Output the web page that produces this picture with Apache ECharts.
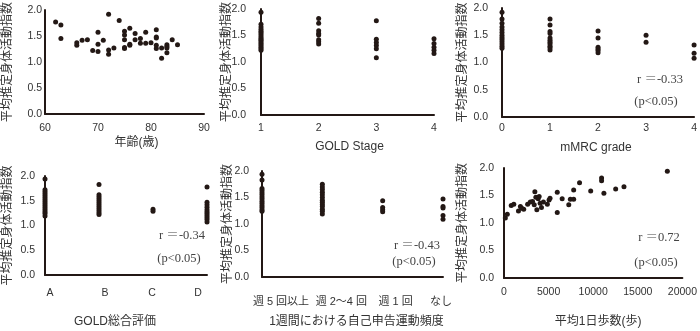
<!DOCTYPE html>
<html>
<head>
<meta charset="utf-8">
<script src="https://cdn.jsdelivr.net/npm/echarts@6/dist/echarts.min.js"></script>
<style>
html, body { margin: 0; padding: 0; background: #fff; }
#chart { width: 700px; height: 331px; }
</style>
</head>
<body>
<div id="chart"></div>
<script>
// 平均推定身体活動指数 vs 各因子
const yName = '平均推定身体活動指数'

// panel 1: age
const ageYears = [62, 63, 63, 66, 66, 67, 68, 69, 70, 70, 70, 71, 72, 72, 72, 73, 74, 75, 75, 75, 75, 75, 76, 76, 76, 77, 77, 78, 78, 79, 79, 80, 81, 81, 81, 81, 81, 82, 82, 83, 83, 83, 83, 84, 85]
const ageAct = [1.77, 1.71, 1.45, 1.37, 1.32, 1.42, 1.43, 1.22, 1.57, 1.34, 1.20, 1.42, 1.92, 1.23, 1.15, 1.27, 1.80, 1.59, 1.52, 1.43, 1.28, 1.26, 1.65, 1.34, 1.32, 1.55, 1.43, 1.45, 1.36, 1.57, 1.36, 1.37, 1.62, 1.48, 1.46, 1.32, 1.26, 1.27, 1.07, 1.33, 1.30, 1.27, 1.18, 1.43, 1.33]

// panel 2: GOLD stage
const goldStages = ['1', '2', '3', '4']
const goldStageAct = [
  [1.94, 1.71, 1.66, 1.62, 1.58, 1.55, 1.52, 1.48, 1.45, 1.42, 1.40, 1.37, 1.34, 1.31, 1.28, 1.25, 1.22],
  [1.82, 1.73, 1.59, 1.54, 1.51, 1.42, 1.38, 1.34],
  [1.78, 1.43, 1.37, 1.31, 1.25, 1.08],
  [1.44, 1.35, 1.28, 1.22, 1.16]
]

// panel 3: mMRC grade
const mmrcGrades = ['0', '1', '2', '3', '4']
const mmrcAct = [
  [1.92, 1.80, 1.72, 1.65, 1.60, 1.55, 1.50, 1.46, 1.42, 1.38, 1.34, 1.30, 1.26],
  [1.80, 1.69, 1.57, 1.53, 1.45, 1.41, 1.37, 1.34, 1.30, 1.27, 1.23],
  [1.58, 1.45, 1.28, 1.25, 1.22, 1.18],
  [1.50, 1.37],
  [1.32, 1.17, 1.08]
]

// panel 4: GOLD総合評価
const goldGroups = ['A', 'B', 'C', 'D']
const goldGroupAct = [
  [1.94, 1.72, 1.68, 1.64, 1.60, 1.56, 1.52, 1.48, 1.44, 1.40, 1.36, 1.32, 1.28, 1.24, 1.19],
  [1.83, 1.62, 1.58, 1.54, 1.50, 1.46, 1.42, 1.38, 1.34, 1.30, 1.26, 1.22],
  [1.33, 1.29],
  [1.78, 1.47, 1.42, 1.37, 1.32, 1.28, 1.24, 1.20, 1.16, 1.12, 1.07]
]

// panel 5: 1週間における自己申告運動頻度
const exFreq = ['週 5 回以上', '週 2〜4 回', '週 1 回', 'なし']
const exFreqAct = [
  [1.94, 1.83, 1.67, 1.63, 1.59, 1.55, 1.51, 1.47, 1.43, 1.39, 1.35, 1.31, 1.27, 1.24],
  [1.75, 1.70, 1.65, 1.60, 1.55, 1.50, 1.45, 1.41, 1.37, 1.33, 1.28, 1.24, 1.19],
  [1.44, 1.31, 1.27, 1.23],
  [1.47, 1.33, 1.30, 1.16, 1.09]
]

// panel 6: 平均1日歩数
const steps = [150, 370, 810, 1100, 1620, 1840, 1990, 2210, 2650, 2950, 3200, 3390, 3460, 3570, 3680, 3830, 3940, 4050, 4200, 4420, 4860, 5050, 5160, 5970, 5970, 6520, 7260, 7440, 7810, 7810, 8470, 9720, 10940, 10940, 11200, 12520, 13450, 18310]
const stepAct = [1.09, 1.16, 1.32, 1.34, 1.22, 1.30, 1.27, 1.25, 1.34, 1.38, 1.39, 1.33, 1.57, 1.47, 1.24, 1.44, 1.48, 1.36, 1.28, 1.38, 1.34, 1.42, 1.45, 1.56, 1.19, 1.44, 1.33, 1.43, 1.43, 1.60, 1.73, 1.58, 1.82, 1.77, 1.54, 1.62, 1.66, 1.94]

const corrTexts = [null, null, ['r ＝-0.33', '(p<0.05)'], ['r ＝-0.34', '(p<0.05)'], ['r ＝-0.43', '(p<0.05)'], ['r ＝0.72', '(p<0.05)']]

const INK = '#231815'
const TXT = '#333'
const SANS = "'Liberation Sans', 'Noto Sans CJK JP', sans-serif"
const SERIF = "'Liberation Serif', 'Noto Serif CJK JP', serif"
const TICK_FS = 10.5

// layout of each panel (px)
const panels = [
  { left: 45, top: 5, width: 159, height: 109, yGap: 31, yMargin: 3, xMargin: 9, nameGap: 23, xName: '年齢(歳)', nameShift: 12 },
  { left: 261, top: 7, width: 173, height: 108, yGap: 28, yMargin: 15, xMargin: 8, nameGap: 26, xName: 'GOLD Stage', nameShift: 2 },
  { left: 502, top: 8, width: 194, height: 109, yGap: 33, yMargin: 14, xMargin: 6, nameGap: 25, xName: 'mMRC grade', nameShift: -2 },
  { left: 45, top: 176, width: 162, height: 99, yGap: 31, yMargin: 10, xMargin: 13, nameGap: 41, xName: 'GOLD総合評価', nameShift: -11, labelShift: [5, 6, -1, -9] },
  { left: 262, top: 171, width: 181, height: 106, yGap: 28, yMargin: 13, xMargin: 19, nameGap: 39, xName: '1週間における自己申告運動頻度', nameShift: 4, labelShift: [19, 19, 13, -2] },
  { left: 504, top: 168, width: 181, height: 110, yGap: 35, yMargin: 10, xMargin: 9, nameGap: 38, xName: '平均1日歩数(歩)', nameShift: 5 }
]

const textPos = [null, null, [[660, 80], [656, 102]], [[182, 236], [179, 259]], [[417, 246], [414, 262]], [[659, 238], [656, 263]]]

function shiftPad(s) {
  return s >= 0 ? [0, 0, 0, 2 * s] : [0, -2 * s, 0, 0]
}

function catAxis(i, cats) {
  const p = panels[i]
  const fs = i === 4 ? 11 : TICK_FS
  const axis = {
    type: 'category',
    gridIndex: i,
    data: cats,
    boundaryGap: false,
    axisLabel: { color: TXT, fontFamily: SANS, fontSize: fs, margin: p.xMargin, interval: 0 }
  }
  if (p.labelShift) {
    const rich = {}
    p.labelShift.forEach((s, k) => {
      rich['s' + k] = { padding: shiftPad(s), color: TXT, fontFamily: SANS, fontSize: fs }
    })
    axis.axisLabel.formatter = (v, idx) => '{s' + idx + '|' + v + '}'
    axis.axisLabel.rich = rich
  }
  return axis
}

function valAxis(i, min, max, interval) {
  const p = panels[i]
  return {
    type: 'value',
    gridIndex: i,
    min: min,
    max: max,
    interval: interval,
    axisLabel: { color: TXT, fontFamily: SANS, fontSize: TICK_FS, margin: p.xMargin, formatter: (v) => String(v) },
    splitLine: { show: false }
  }
}

const xAxes = [
  valAxis(0, 60, 90, 10),
  catAxis(1, goldStages),
  catAxis(2, mmrcGrades),
  catAxis(3, goldGroups),
  catAxis(4, exFreq),
  valAxis(5, 0, 20000, 5000)
].map((a, i) => Object.assign(a, {
  name: panels[i].xName,
  nameLocation: 'middle',
  nameGap: panels[i].nameGap,
  nameMoveOverlap: false,
  nameTextStyle: { color: TXT, fontFamily: SANS, fontSize: 12, padding: shiftPad(panels[i].nameShift) },
  axisLine: { onZero: false, lineStyle: { color: INK, width: 2 } },
  axisTick: { show: false }
}))

const yAxes = panels.map((p, i) => ({
  type: 'value',
  gridIndex: i,
  min: 0,
  max: 2,
  interval: 0.5,
  name: yName,
  nameLocation: 'middle',
  nameGap: p.yGap,
  nameMoveOverlap: false,
  nameTextStyle: { color: TXT, fontFamily: SANS, fontSize: 12 },
  axisLine: { show: true, lineStyle: { color: INK, width: 2 } },
  axisTick: { show: false },
  splitLine: { show: false },
  axisLabel: { color: TXT, fontFamily: SANS, fontSize: TICK_FS, margin: p.yMargin, formatter: (v) => v.toFixed(1) }
}))

function scatter(i, data) {
  return {
    type: 'scatter',
    xAxisIndex: i,
    yAxisIndex: i,
    symbolSize: 5,
    itemStyle: { color: INK, opacity: 1 },
    data: data,
    silent: true
  }
}

function catData(cats, groups) {
  const out = []
  groups.forEach((vals, k) => vals.forEach((v) => out.push([cats[k], v])))
  return out
}

const series = [
  scatter(0, ageYears.map((a, k) => [a, ageAct[k]])),
  scatter(1, catData(goldStages, goldStageAct)),
  scatter(2, catData(mmrcGrades, mmrcAct)),
  scatter(3, catData(goldGroups, goldGroupAct)),
  scatter(4, catData(exFreq, exFreqAct)),
  scatter(5, steps.map((s, k) => [s, stepAct[k]]))
]

const graphics = []
corrTexts.forEach((t, i) => {
  if (!t) return
  t.forEach((line, k) => {
    graphics.push({
      type: 'text',
      x: textPos[i][k][0],
      y: textPos[i][k][1],
      style: { text: line, font: '12.5px ' + SERIF, fill: '#444', textAlign: 'center', textVerticalAlign: 'middle' }
    })
  })
})

const chart = echarts.init(document.getElementById('chart'))
chart.setOption({
  animation: false,
  backgroundColor: '#fff',
  grid: panels.map((p) => ({ left: p.left, top: p.top, width: p.width, height: p.height })),
  xAxis: xAxes,
  yAxis: yAxes,
  series: series,
  graphic: graphics
})
</script>
</body>
</html>
